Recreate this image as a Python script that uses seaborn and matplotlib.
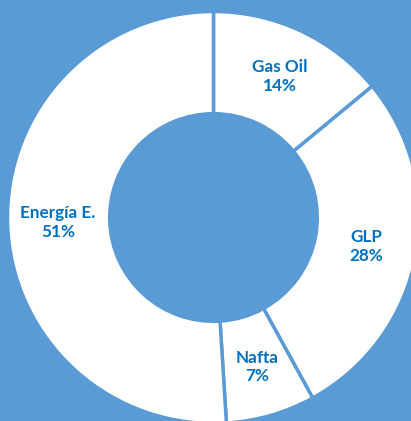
import numpy as np
import matplotlib
matplotlib.use('Agg')
import matplotlib.pyplot as plt
import seaborn as sns

# data
categories = ['Gas Oil', 'GLP', 'Nafta', 'Energía E.']
shares = [14, 28, 7, 51]

bg_blue = '#5B9BD5'
text_blue = '#0070C0'

sns.set_style('white')
plt.rcParams['font.family'] = ['Lato', 'DejaVu Sans']

fig = plt.figure(figsize=(4.11, 4.21), dpi=100, facecolor=bg_blue)
ax = fig.add_axes([0, 0, 1, 1])
ax.set_facecolor(bg_blue)

wedges, _ = ax.pie(shares, startangle=90, counterclock=False, radius=1.0,
                   colors=['white'] * len(shares),
                   wedgeprops=dict(width=0.496, edgecolor=bg_blue, linewidth=2.5))

for w, name, val in zip(wedges, categories, shares):
    ang = np.deg2rad((w.theta1 + w.theta2) / 2)
    ax.text(0.755 * np.cos(ang), 0.755 * np.sin(ang), f'{name}\n{val}%',
            ha='center', va='center', color=text_blue, fontsize=12.3,
            fontweight='bold', linespacing=1.2)

# center of donut at pixel (213.5, 217.5), outer radius ~206 px
s = 206.0
cx, cy = 213.5, 217.5
ax.set_xlim(-cx / s, (411 - cx) / s)
ax.set_ylim(-(421 - cy) / s, cy / s)
ax.set_aspect('auto')
ax.axis('off')

fig.savefig('out.png', dpi=100, facecolor=bg_blue)
